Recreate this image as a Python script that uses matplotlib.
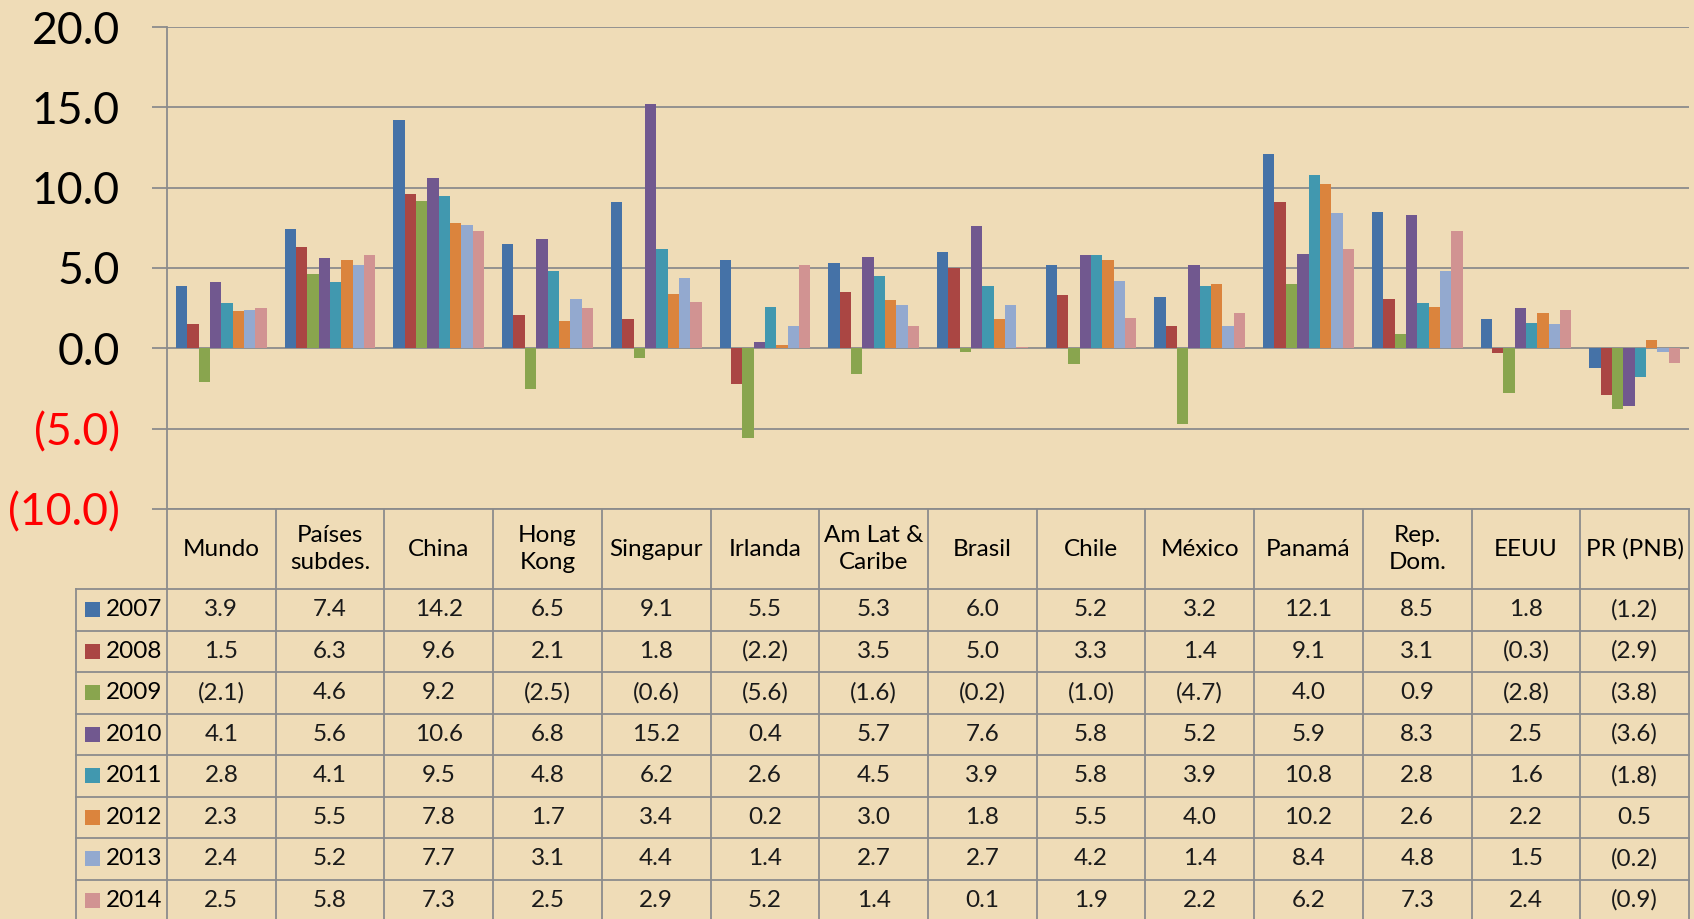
import matplotlib
matplotlib.use("Agg")
import matplotlib.pyplot as plt
import matplotlib.transforms as mtransforms
from matplotlib.patches import Rectangle
import numpy as np

plt.rcParams['font.family'] = ['Lato', 'DejaVu Sans']

# ---------------- data ----------------
categories = ["Mundo", "Países\nsubdes.", "China", "Hong\nKong", "Singapur", "Irlanda",
              "Am Lat &\nCaribe", "Brasil", "Chile", "México", "Panamá", "Rep.\nDom.",
              "EEUU", "PR (PNB)"]
years = ["2007", "2008", "2009", "2010", "2011", "2012", "2013", "2014"]

v2007 = [3.9, 7.4, 14.2, 6.5, 9.1, 5.5, 5.3, 6.0, 5.2, 3.2, 12.1, 8.5, 1.8, -1.2]
v2008 = [1.5, 6.3, 9.6, 2.1, 1.8, -2.2, 3.5, 5.0, 3.3, 1.4, 9.1, 3.1, -0.3, -2.9]
v2009 = [-2.1, 4.6, 9.2, -2.5, -0.6, -5.6, -1.6, -0.2, -1.0, -4.7, 4.0, 0.9, -2.8, -3.8]
v2010 = [4.1, 5.6, 10.6, 6.8, 15.2, 0.4, 5.7, 7.6, 5.8, 5.2, 5.9, 8.3, 2.5, -3.6]
v2011 = [2.8, 4.1, 9.5, 4.8, 6.2, 2.6, 4.5, 3.9, 5.8, 3.9, 10.8, 2.8, 1.6, -1.8]
v2012 = [2.3, 5.5, 7.8, 1.7, 3.4, 0.2, 3.0, 1.8, 5.5, 4.0, 10.2, 2.6, 2.2, 0.5]
v2013 = [2.4, 5.2, 7.7, 3.1, 4.4, 1.4, 2.7, 2.7, 4.2, 1.4, 8.4, 4.8, 1.5, -0.2]
v2014 = [2.5, 5.8, 7.3, 2.5, 2.9, 5.2, 1.4, 0.1, 1.9, 2.2, 6.2, 7.3, 2.4, -0.9]
series = [v2007, v2008, v2009, v2010, v2011, v2012, v2013, v2014]

yticks = [20, 15, 10, 5, 0, -5, -10]

colors = ["#4572A7", "#AA4643", "#89A54E", "#71588F", "#4198AF", "#DB843D", "#93A9CF", "#D19392"]

# ---------------- layout ----------------
W, H = 1694, 919
bg = "#EFDCB7"
grid_c = "#8C8C8C"

def fx(px):
    return px / W

def fy(py):
    return 1 - py / H

fig = plt.figure(figsize=(W / 100, H / 100), dpi=100)
fig.patch.set_facecolor(bg)

plot_left, plot_right, plot_top, plot_bot = 167, 1689, 27, 509
ax = fig.add_axes([fx(plot_left), fy(plot_bot), fx(plot_right) - fx(plot_left), fy(plot_top) - fy(plot_bot)])
ax.set_facecolor("none")
ax.set_zorder(2)

n_cat = len(categories)
n_ser = len(series)
group_w = 0.834
bw = group_w / n_ser
x = np.arange(n_cat) + 0.5
for j, (vals, c) in enumerate(zip(series, colors)):
    ax.bar(x + (j - (n_ser - 1) / 2) * bw, vals, width=bw, color=c, zorder=3, linewidth=0)

ax.set_xlim(0, n_cat)
ax.set_ylim(-10, 20)
ax.set_xticks([])
ax.set_yticks(yticks)

def fmt(v):
    return f"({abs(v):.1f})" if v < 0 else f"{v:.1f}"

ax.set_yticklabels([fmt(t) for t in yticks], fontsize=32)
for t, lab in zip(yticks, ax.get_yticklabels()):
    if t < 0:
        lab.set_color("#FF0000")
    else:
        lab.set_color("black")
        lab.set_transform(lab.get_transform() + mtransforms.ScaledTranslation(-9 / 100, 0, fig.dpi_scale_trans))
ax.tick_params(axis="y", length=11, width=1.3, color=grid_c, pad=23)
ax.yaxis.grid(True, color=grid_c, linewidth=1.3, zorder=1)
ax.set_axisbelow(True)
for s in ["top", "right", "bottom"]:
    ax.spines[s].set_visible(False)
ax.spines["left"].set_color(grid_c)
ax.spines["left"].set_linewidth(1.3)

# ---------------- data table ----------------
tax = fig.add_axes([0, 0, 1, 1])
tax.set_xlim(0, W)
tax.set_ylim(H, 0)
tax.axis("off")
tax.set_zorder(1)
tax.patch.set_alpha(0)

colw = (plot_right - plot_left) / n_cat
col_x = [plot_left + i * colw for i in range(n_cat + 1)]
hdr_top, hdr_bot = 509, 589
row_h = 41.5
leg_left = 76
row_y = [hdr_bot + k * row_h for k in range(n_ser + 1)]
lw = 1.3

# horizontal lines
tax.plot([plot_left, plot_right], [hdr_top, hdr_top], color=grid_c, lw=lw)
for yy in row_y:
    tax.plot([leg_left, plot_right], [yy, yy], color=grid_c, lw=lw)
# vertical lines
tax.plot([leg_left, leg_left], [hdr_bot, H + 10], color=grid_c, lw=lw)
for xx in col_x:
    tax.plot([xx, xx], [hdr_top, H + 10], color=grid_c, lw=lw)

tfs = 17.5
for i, cat in enumerate(categories):
    cx = (col_x[i] + col_x[i + 1]) / 2
    tax.text(cx, (hdr_top + hdr_bot) / 2, cat, ha="center", va="center",
             fontsize=tfs, color="black", linespacing=1.35)

for j, (vals, c, yr) in enumerate(zip(series, colors, years)):
    cy = row_y[j] + row_h / 2
    tax.add_patch(Rectangle((85, cy - 7.5), 15, 15, facecolor=c, edgecolor="none"))
    tax.text(106, cy, yr, ha="left", va="center", fontsize=tfs, color="black")
    for i, v in enumerate(vals):
        cx = (col_x[i] + col_x[i + 1]) / 2
        tax.text(cx, cy, fmt(v), ha="center", va="center", fontsize=tfs, color="#1A1A1A")

fig.savefig("out.png", dpi=100, facecolor=fig.get_facecolor())
